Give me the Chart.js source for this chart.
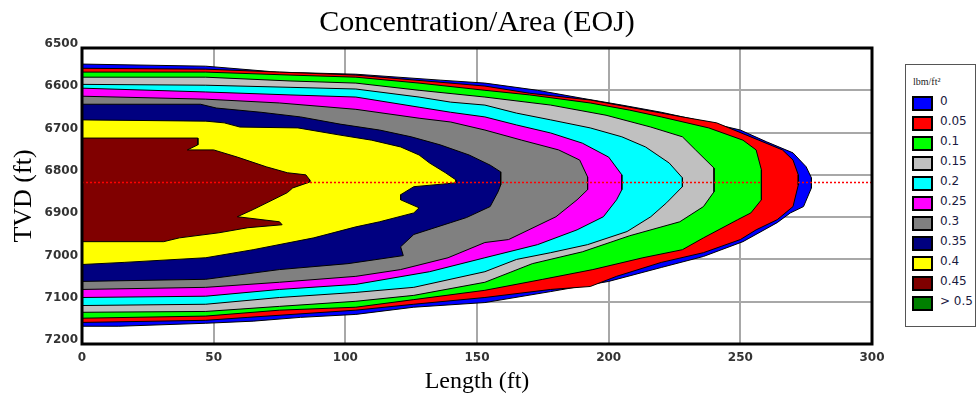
<!DOCTYPE html>
<html>
<head>
<meta charset="utf-8">
<title>Concentration/Area (EOJ)</title>
<script src="https://cdn.jsdelivr.net/npm/chart.js@4.4.1/dist/chart.umd.min.js"></script>
<style>
    html, body { margin: 0; padding: 0; background: #fff; }
    #wrap { position: relative; width: 979px; height: 398px; }
    #legend {
        position: absolute; left: 905px; top: 64px; width: 71px; height: 263px;
        border: 1px solid #555; box-sizing: border-box; background: #fff;
    }
    #legend .ttl {
        position: absolute; left: 7px; top: 11px;
        font: 10px "Liberation Serif", serif; color: #222;
    }
    #legend .item { position: absolute; left: 6px; height: 14px; }
    #legend .box {
        position: absolute; left: 0; top: 0; width: 17px; height: 11px;
        border: 2px solid #000;
    }
    #legend .lbl {
        position: absolute; left: 28px; top: -2px; white-space: nowrap;
        font: 12px "DejaVu Sans", sans-serif; color: #1a1a40;
    }
</style>
</head>
<body>
<div id="wrap">
    <canvas id="chart-area" width="979" height="398"></canvas>
    <div id="legend"></div>
</div>
<script>
// legend levels (lbm/ft²) and their colours
const levels = ['0', '0.05', '0.1', '0.15', '0.2', '0.25', '0.3', '0.35', '0.4', '0.45', '> 0.5'];
const levelColors = ['#0000ff', '#ff0000', '#00ff00', '#c0c0c0', '#00ffff', '#ff00ff',
    '#808080', '#000080', '#ffff00', '#800000', '#008000'];

// axis ticks
const lengthTicks = [0, 50, 100, 150, 200, 250, 300];
const tvdTicks = [6500, 6600, 6700, 6800, 6900, 7000, 7100, 7200];

// outline of each level, [length ft, TVD ft]: top edge out to the tip, then back along the bottom edge
const level000 = [[0, 6538], [47, 6543], [74, 6557], [104, 6562], [136, 6576], [153, 6583], [173, 6600],
    [190, 6619], [205, 6635], [220, 6652], [237, 6675], [250, 6694], [260, 6722], [270, 6748], [275, 6781],
    [277, 6807], [277, 6831], [274, 6875], [269, 6890], [264, 6913], [251, 6958], [236, 6993], [220, 7019],
    [200, 7052], [178, 7076], [153, 7102], [126, 7113], [104, 7130], [83, 7137], [65, 7146], [47, 7151],
    [14, 7158], [0, 7158]];
const level005 = [[0, 6548], [47, 6550], [75, 6557], [104, 6564], [153, 6590], [170, 6607], [193, 6623],
    [208, 6640], [228, 6663], [241, 6677], [257, 6718], [266, 6741], [270, 6765], [272, 6800], [272, 6824],
    [270, 6875], [264, 6906], [256, 6930], [250, 6953], [236, 6984], [220, 7007], [203, 7040], [193, 7064],
    [178, 7071], [153, 7090], [126, 7106], [104, 7120], [63, 7137], [47, 7144], [0, 7149]];
const level010 = [[0, 6557], [47, 6557], [79, 6564], [104, 6569], [128, 6583], [153, 6600], [170, 6611],
    [193, 6630], [208, 6647], [220, 6663], [238, 6689], [251, 6718], [256, 6741], [258, 6788], [258, 6859],
    [254, 6890], [249, 6906], [236, 6949], [228, 6977], [213, 6996], [194, 7024], [175, 7047], [153, 7073],
    [126, 7095], [104, 7113], [75, 7120], [47, 7134], [0, 7139]];
const level015 = [[0, 6569], [47, 6569], [79, 6578], [104, 6583], [128, 6600], [153, 6616], [178, 6635],
    [199, 6659], [216, 6687], [228, 6710], [233, 6741], [240, 6784], [240, 6840], [236, 6875], [227, 6911],
    [208, 6944], [190, 6982], [171, 7010], [153, 7054], [126, 7085], [104, 7099], [75, 7111], [47, 7123],
    [0, 7125]];
const level020 = [[0, 6586], [47, 6588], [79, 6593], [104, 6597], [128, 6616], [140, 6628], [153, 6635],
    [165, 6654], [178, 6670], [193, 6689], [205, 6710], [214, 6734], [223, 6772], [228, 6807], [228, 6828],
    [222, 6866], [216, 6899], [207, 6934], [192, 6965], [178, 6984], [165, 7000], [153, 7029], [126, 7066],
    [104, 7078], [75, 7090], [47, 7106], [0, 7109]];
const level025 = [[0, 6595], [47, 6604], [79, 6611], [104, 6616], [128, 6640], [140, 6652], [153, 6663],
    [165, 6682], [178, 6701], [190, 6725], [200, 6758], [205, 6800], [205, 6835], [203, 6859], [198, 6899],
    [188, 6930], [173, 6965], [153, 6996], [132, 7029], [104, 7059], [75, 7071], [47, 7087], [0, 7090]];
const level030 = [[0, 6614], [47, 6621], [75, 6630], [104, 6645], [128, 6666], [140, 6675], [153, 6694],
    [167, 6718], [181, 6741], [189, 6765], [192, 6805], [192, 6835], [188, 6859], [180, 6899], [162, 6953],
    [153, 6960], [139, 6996], [121, 7024], [104, 7040], [75, 7054], [47, 7066], [0, 7071]];
const level035 = [[0, 6633], [45, 6633], [51, 6642], [68, 6652], [83, 6663], [98, 6680], [113, 6694],
    [125, 6710], [136, 6729], [147, 6753], [155, 6777], [159, 6793], [159, 6812], [159, 6824], [158, 6840],
    [155, 6875], [146, 6901], [140, 6913], [126, 6941], [121, 6970], [122, 6991], [101, 7010], [75, 7024],
    [47, 7047], [0, 7052]];
const level040 = [[0, 6670], [47, 6673], [54, 6677], [60, 6687], [82, 6689], [98, 6706], [110, 6718],
    [121, 6734], [128, 6753], [132, 6772], [138, 6795], [142, 6812], [142, 6819], [126, 6828], [121, 6847],
    [121, 6859], [128, 6878], [126, 6890], [113, 6911], [104, 6923], [88, 6949], [65, 6977], [47, 6996],
    [16, 7007], [0, 7012]];
const level045 = [[0, 6713], [44, 6713], [44, 6729], [40, 6741], [50, 6741], [59, 6758], [70, 6781],
    [78, 6795], [85, 6800], [86.5, 6812], [86.5, 6817], [80, 6831], [78, 6842], [72.5, 6859], [65, 6882],
    [59, 6899], [75, 6911], [76, 6918], [63, 6925], [52, 6937], [37, 6949], [31, 6958], [0, 6958]];

const contours = [level000, level005, level010, level015, level020, level025,
    level030, level035, level040, level045];

// red dotted line through the perforation depth
const centerTvd = 6818;

// legend
var legendEl = document.getElementById('legend');
var html = '<div class="ttl">lbm/ft²</div>';
for (var i = 0; i < levels.length; i++) {
    html += '<div class="item" style="top:' + (31 + 20 * i) + 'px">' +
        '<div class="box" style="background:' + levelColors[i] + '"></div>' +
        '<div class="lbl">' + levels[i].replace('>', '&gt;') + '</div></div>';
}
legendEl.innerHTML = html;

var datasets = contours.map(function (pts, i) {
    return {
        label: levels[i],
        data: pts.map(function (p) { return { x: p[0], y: p[1] }; }),
        showLine: true,
        fill: 'shape',
        backgroundColor: levelColors[i],
        borderColor: '#000',
        borderWidth: 1,
        pointRadius: 0,
        order: contours.length - i + 1,
    };
});
datasets.push({
    label: 'center',
    data: [{ x: lengthTicks[0], y: centerTvd }, { x: lengthTicks[lengthTicks.length - 1], y: centerTvd }],
    showLine: true,
    fill: false,
    borderColor: '#ff0000',
    borderWidth: 1.5,
    borderDash: [2, 2],
    pointRadius: 0,
    order: 0,
});

// thick black frame round the plot, title centred over the plot
const framePlugin = {
    id: 'frame',
    afterLayout(chart) {
        if (chart.titleBlock) {
            chart.titleBlock.left = chart.chartArea.left;
            chart.titleBlock.right = chart.chartArea.right;
        }
    },
    afterDatasetsDraw(chart) {
        const a = chart.chartArea;
        const ctx = chart.ctx;
        ctx.save();
        ctx.strokeStyle = '#000';
        ctx.lineWidth = 3;
        ctx.strokeRect(a.left, a.top, a.right - a.left, a.bottom - a.top);
        ctx.restore();
    },
};

var tickFont = { family: 'DejaVu Sans', size: 12, weight: 'bold' };
var plainTick = function (v) { return String(v); };

var config = {
    type: 'scatter',
    data: { datasets: datasets },
    options: {
        responsive: false,
        animation: false,
        events: [],
        layout: { padding: { left: 0, right: 107, top: 0, bottom: 0 } },
        plugins: {
            legend: { display: false },
            tooltip: { enabled: false },
            title: {
                display: true,
                text: 'Concentration/Area (EOJ)',
                color: '#000',
                font: { family: 'Liberation Serif', size: 30, weight: 'normal' },
                padding: { top: 5, bottom: 7 },
            },
        },
        scales: {
            x: {
                type: 'linear',
                min: lengthTicks[0],
                max: lengthTicks[lengthTicks.length - 1],
                afterBuildTicks: function (s) { s.ticks = lengthTicks.map(function (v) { return { value: v }; }); },
                afterFit: function (s) { s.height = 54; },
                grid: { color: '#a8a8a8', lineWidth: 2, drawTicks: false },
                border: { display: false },
                ticks: { color: '#333', font: tickFont, padding: 7, maxRotation: 0, callback: plainTick },
                title: {
                    display: true,
                    text: 'Length (ft)',
                    color: '#000',
                    font: { family: 'Liberation Serif', size: 24 },
                    padding: { top: 0, bottom: 2 },
                },
            },
            y: {
                type: 'linear',
                reverse: true,
                min: tvdTicks[0],
                max: tvdTicks[tvdTicks.length - 1],
                afterBuildTicks: function (s) { s.ticks = tvdTicks.map(function (v) { return { value: v }; }); },
                afterFit: function (s) { s.width = 82; },
                grid: { color: '#a8a8a8', lineWidth: 2, drawTicks: false },
                border: { display: false },
                ticks: { color: '#333', font: tickFont, padding: 4, labelOffset: -4, callback: plainTick },
                title: {
                    display: true,
                    text: 'TVD (ft)',
                    color: '#000',
                    font: { family: 'Liberation Serif', size: 26 },
                    padding: { top: 9, bottom: 0 },
                },
            },
        },
    },
    plugins: [framePlugin],
};

var ctx = document.getElementById('chart-area').getContext('2d');
new Chart(ctx, config);
</script>
</body>
</html>
